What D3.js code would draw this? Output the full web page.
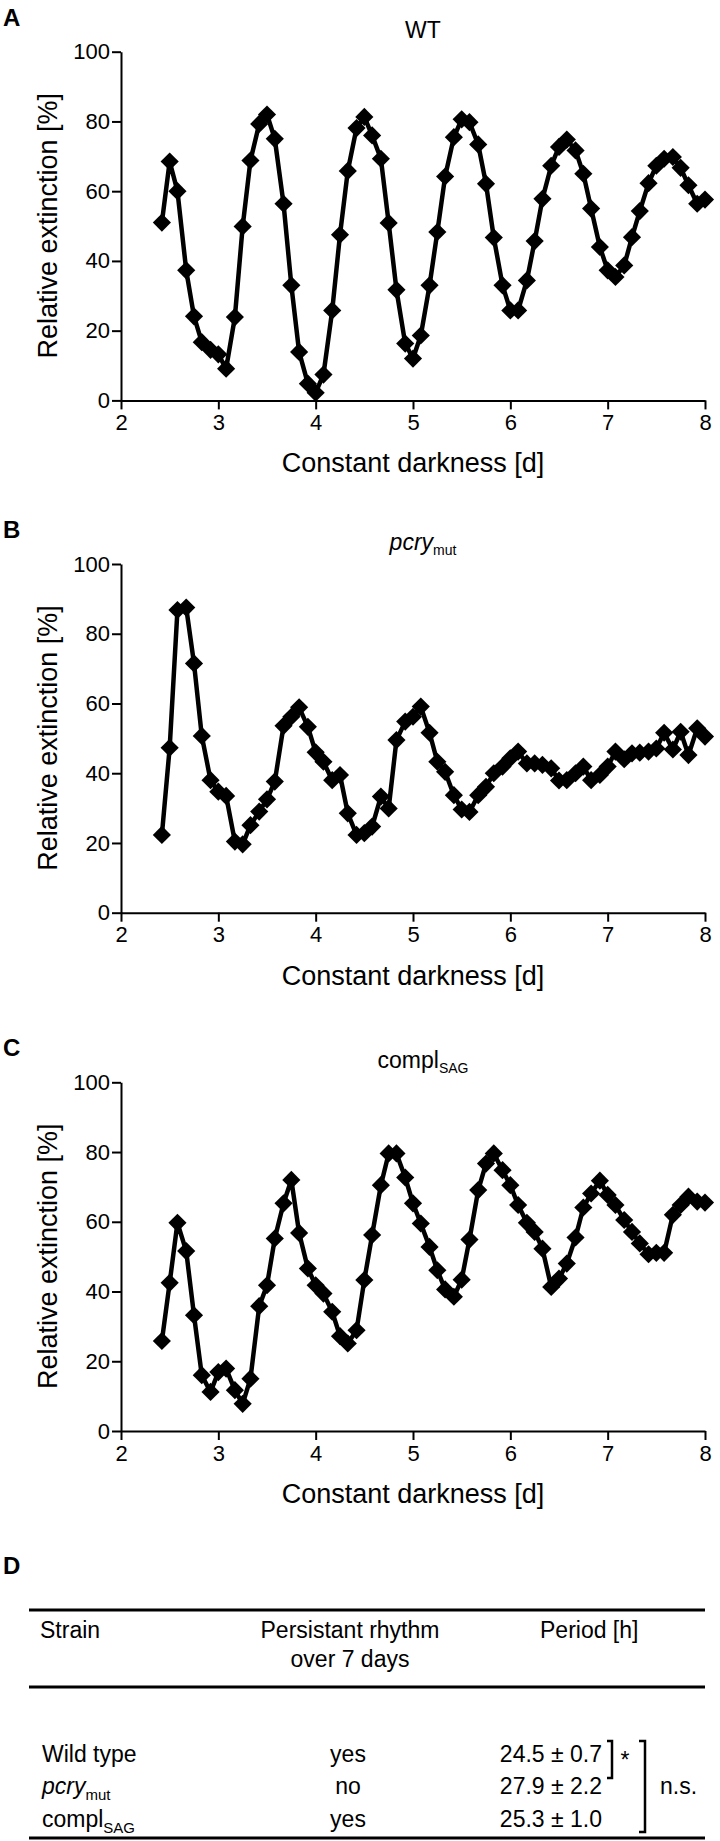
<!DOCTYPE html>
<html><head><meta charset="utf-8">
<script src="https://cdn.jsdelivr.net/npm/d3@7"></script>
<style>
body{margin:0;background:#fff}
text{font-family:"Liberation Sans",Arial,Helvetica,sans-serif;fill:#000}
</style>
</head><body>
<svg id="chart" width="720" height="1841"></svg>
<script>
// ---- data ----
const dayTicks = [2,3,4,5,6,7,8];
const valueTicks = [0,20,40,60,80,100];

const wtDays = [2.42,2.50,2.58,2.67,2.75,2.83,2.92,3.00,3.08,3.17,3.25,3.33,3.42,3.50,3.58,3.67,3.75,3.83,3.92,4.00,4.08,4.17,4.25,4.33,4.42,4.50,4.58,4.67,4.75,4.83,4.92,5.00,5.08,5.17,5.25,5.33,5.42,5.50,5.58,5.67,5.75,5.83,5.92,6.00,6.08,6.17,6.25,6.33,6.42,6.50,6.58,6.67,6.75,6.83,6.92,7.00,7.08,7.17,7.25,7.33,7.42,7.50,7.58,7.67,7.75,7.83,7.92,8.00];
const wtValues = [51,68.5,60,37.3,24.1,16.7,14.5,13.2,9.1,23.9,49.9,68.8,79.3,82,75,56.4,33,13.9,4.8,2.2,7.4,25.8,47.5,65.8,78.1,81.3,76,69.3,50.9,31.7,16.3,12,18.6,33,48.3,64.2,75.5,80.6,79.8,73.4,62.1,46.7,33,25.8,25.8,34.4,45.7,57.8,67.3,72.7,74.8,71.7,65,55,44,37.3,35.4,38.7,46.8,54.3,62.3,67.3,69.3,69.8,66.7,61.7,56.4,57.6];

const mutDays = [2.42,2.50,2.58,2.67,2.75,2.83,2.92,3.00,3.08,3.17,3.25,3.33,3.42,3.50,3.58,3.67,3.75,3.83,3.92,4.00,4.08,4.17,4.25,4.33,4.42,4.50,4.58,4.67,4.75,4.83,4.92,5.00,5.08,5.17,5.25,5.33,5.42,5.50,5.58,5.67,5.75,5.83,5.92,6.00,6.08,6.17,6.25,6.33,6.42,6.50,6.58,6.67,6.75,6.83,6.92,7.00,7.08,7.17,7.25,7.33,7.42,7.50,7.58,7.67,7.75,7.83,7.92,8.00];
const mutValues = [22.3,47.3,86.8,87.5,71.5,50.7,38,34.7,33.5,20.4,19.6,25.1,29,32.5,37.6,53.6,56.2,58.9,53.3,46,43.3,38,39.5,28.5,22.3,22.8,24.7,33.3,29.9,49.5,54.8,56.2,59.1,51.6,43.3,40.4,33.7,29.6,28.9,33.7,36.1,40,41.9,44.3,46.2,42.8,42.8,42.4,41.4,37.9,38,40,41.9,38,39.5,41.9,46.2,44,45.7,45.9,46.2,47.1,51.6,46.8,51.9,45.2,52.9,50.5];

const complDays = [2.42,2.50,2.58,2.67,2.75,2.83,2.92,3.00,3.08,3.17,3.25,3.33,3.42,3.50,3.58,3.67,3.75,3.83,3.92,4.00,4.08,4.17,4.25,4.33,4.42,4.50,4.58,4.67,4.75,4.83,4.92,5.00,5.08,5.17,5.25,5.33,5.42,5.50,5.58,5.67,5.75,5.83,5.92,6.00,6.08,6.17,6.25,6.33,6.42,6.50,6.58,6.67,6.75,6.83,6.92,7.00,7.08,7.17,7.25,7.33,7.42,7.50,7.58,7.67,7.75,7.83,7.92,8.00];
const complValues = [25.8,42.5,59.7,51.6,33.2,16,11.2,16.9,17.9,11.7,7.8,15,35.8,41.8,55.2,65.3,72,56.8,46.6,41.8,39.4,34.2,27.2,25.1,28.9,43.3,56.2,70.5,79.6,79.6,72.7,65.3,59.5,52.8,46.1,40.6,38.5,43.4,54.9,69.1,76.7,79.6,74.8,70.5,64.8,59.7,57.1,52.3,41.3,43.7,48,55.5,64.1,68.1,71.8,67.7,64.8,60.5,57.1,53.8,50.7,51.1,51.1,62,64.8,67.2,65.8,65.5];

const tableStrains = ["Wild type","pcry","compl"];
const tableSubs = ["","mut","SAG"];
const tableRhythm = ["yes","no","yes"];
const tablePeriod = ["24.5 ± 0.7","27.9 ± 2.2","25.3 ± 1.0"];

// ---- drawing ----
const svg = d3.select("#chart");
const x = d3.scaleLinear().domain([2,8]).range([121,705]);

function panel(letter, top, days, values, titleFn){
  const y = d3.scaleLinear().domain([0,100]).range([top+348.7, top]);
  const g = svg.append("g");
  g.append("text").attr("x",3).attr("y",top-26).attr("font-size",24).attr("font-weight","bold").text(letter);
  titleFn(g.append("text").attr("x",423).attr("y",top-14).attr("text-anchor","middle").attr("font-size",23));

  const ax = g.append("g").attr("transform",`translate(0,${y(0)})`)
    .call(d3.axisBottom(x).tickValues(dayTicks).tickSize(9).tickSizeOuter(0).tickPadding(5).tickFormat(d3.format("d")));
  const ay = g.append("g").attr("transform",`translate(121,0)`)
    .call(d3.axisLeft(y).tickValues(valueTicks).tickSize(9).tickSizeOuter(0).tickPadding(2).tickFormat(d3.format("d")));
  [ax,ay].forEach(a=>{
    a.selectAll("path,line").attr("stroke","#000").attr("stroke-width",2);
    a.selectAll("text").attr("font-size",22).attr("font-family",'"Liberation Sans",Arial,sans-serif');
  });
  g.append("text").attr("x",413).attr("y",y(0)+72).attr("text-anchor","middle").attr("font-size",27).text("Constant darkness [d]");
  g.append("text").attr("transform",`translate(57,${top+174}) rotate(-90)`).attr("text-anchor","middle").attr("font-size",27).text("Relative extinction [%]");

  const pts = days.map((d,i)=>[d,values[i]]);
  g.append("path").datum(pts).attr("fill","none").attr("stroke","#000").attr("stroke-width",4.5).attr("stroke-linejoin","round")
    .attr("d", d3.line().x(d=>x(d[0])).y(d=>y(d[1])));
  g.selectAll("path.m").data(pts).enter().append("path").attr("class","m")
    .attr("d", d3.symbol(d3.symbolSquare, 165)())
    .attr("transform", d=>`translate(${x(d[0])},${y(d[1])}) rotate(45)`)
    .attr("fill","#000");
}

panel("A", 51.7, wtDays, wtValues, t=>t.text("WT"));
panel("B", 564, mutDays, mutValues, t=>{
  t.append("tspan").attr("font-style","italic").text("pcry");
  t.append("tspan").attr("font-size",14).attr("dy",5).text("mut");
});
panel("C", 1082.3, complDays, complValues, t=>{
  t.append("tspan").text("compl");
  t.append("tspan").attr("font-size",14).attr("dy",5).text("SAG");
});

// ---- table D ----
const tg = svg.append("g");
tg.append("text").attr("x",3).attr("y",1574).attr("font-size",24).attr("font-weight","bold").text("D");
[1610,1687,1838].forEach(yy=>tg.append("line").attr("x1",29).attr("x2",705).attr("y1",yy).attr("y2",yy).attr("stroke","#000").attr("stroke-width",3));
const fs = 23;
tg.append("text").attr("x",40).attr("y",1638).attr("font-size",fs).text("Strain");
tg.append("text").attr("x",350).attr("y",1638).attr("text-anchor","middle").attr("font-size",fs).text("Persistant rhythm");
tg.append("text").attr("x",350).attr("y",1667).attr("text-anchor","middle").attr("font-size",fs).text("over 7 days");
tg.append("text").attr("x",540).attr("y",1638).attr("font-size",fs).text("Period [h]");
const rowY = [1762,1794,1827];
tableStrains.forEach((s,i)=>{
  const t = tg.append("text").attr("x",42).attr("y",rowY[i]).attr("font-size",fs);
  const sp = t.append("tspan").text(s);
  if(i===1) sp.attr("font-style","italic");
  if(tableSubs[i]) t.append("tspan").attr("font-size",15).attr("dy",6).text(tableSubs[i]);
  tg.append("text").attr("x",348).attr("y",rowY[i]).attr("text-anchor","middle").attr("font-size",fs).text(tableRhythm[i]);
  tg.append("text").attr("x",602).attr("y",rowY[i]).attr("text-anchor","end").attr("font-size",fs).text(tablePeriod[i]);
});
// significance brackets
tg.append("path").attr("d","M607,1741 H612 V1778 H607").attr("fill","none").attr("stroke","#000").attr("stroke-width",2.5);
tg.append("text").attr("x",625).attr("y",1768).attr("text-anchor","middle").attr("font-size",fs).text("*");
tg.append("path").attr("d","M639,1741 H645 V1832 H639").attr("fill","none").attr("stroke","#000").attr("stroke-width",2.5);
tg.append("text").attr("x",660).attr("y",1794).attr("font-size",fs).text("n.s.");
</script>
</body></html>
